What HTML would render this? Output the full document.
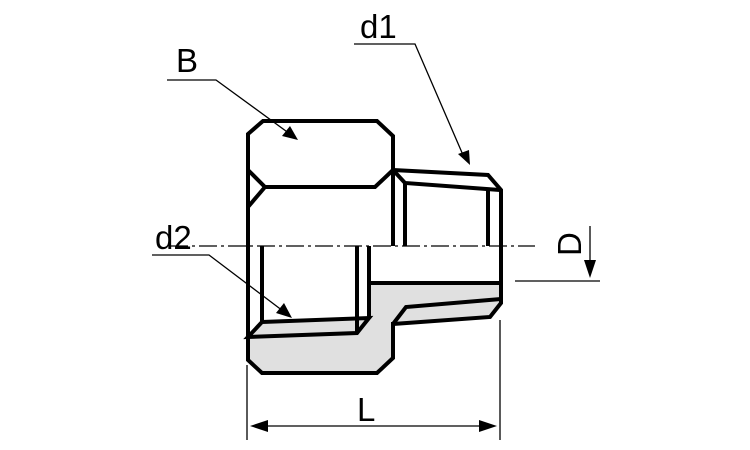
<!DOCTYPE html>
<html><head><meta charset="utf-8"><style>html,body{margin:0;padding:0;background:#fff;}svg{display:block}</style></head>
<body>
<svg width="750" height="450" viewBox="0 0 750 450" xmlns="http://www.w3.org/2000/svg" font-family="Liberation Sans, sans-serif">
<rect width="750" height="450" fill="#fff"/>
<polygon points="368,283 501,283 501,303 490,317 393,324 393,358 377,373 262,373 248,360 248,337 262,322 368,318" fill="#e0e0e0"/>
<g fill="none" stroke="#000" stroke-width="4" stroke-linejoin="miter">
<polyline points="393,246 393,136 377,121 263,121 248,134 248,360 262,373 377,373 393,358 393,322"/>
<polyline points="248,170 265,187 375,187 393,170"/>
<polyline points="248,207 265,187"/>
<polyline points="393,170 488,175 501,190 501,303 490,317 393,324"/>
<polyline points="393,170 405,183 500,190"/>
<line x1="405" y1="183" x2="405" y2="246"/>
<line x1="488" y1="190" x2="488" y2="246"/>
<line x1="262" y1="246" x2="262" y2="322"/>
<line x1="357" y1="246" x2="357" y2="334"/>
<line x1="369" y1="246" x2="369" y2="318"/>
<polyline points="369,283 501,283"/>
<polyline points="262,322 369,318 357,333 248,337 262,322"/>
<polyline points="393,324 406,307 501,299"/>
</g>
<line x1="170" y1="246" x2="535" y2="246" stroke="#000" stroke-width="1.3" stroke-dasharray="18,4,3,4"/>
<g stroke="#000" stroke-width="1.3" fill="none">
<polyline points="167,80 216,80 290,134"/>
<polyline points="354,44 415,44 463,155"/>
<polyline points="152,255 209,255 283,311"/>
<line x1="515" y1="281" x2="600" y2="281"/>
<line x1="590" y1="226" x2="590" y2="262"/>
<line x1="247" y1="365" x2="247" y2="440"/>
<line x1="500" y1="320" x2="500" y2="440"/>
<line x1="262" y1="426" x2="486" y2="426"/>
</g>
<g fill="#000">
<polygon points="298,140 282,136 290,126"/>
<polygon points="470,165 458,154 469,150"/>
<polygon points="292,318 276,313 284,303"/>
<polygon points="590,278 584,260 596,260"/>
<polygon points="250,426 268,420 268,432"/>
<polygon points="497,426 479,420 479,432"/>
</g>
<g font-size="33" fill="#000">
<text x="176" y="72">B</text>
<text x="360" y="38">d1</text>
<text x="155" y="249">d2</text>
<text x="357" y="421">L</text>
<text x="0" y="0" transform="translate(581,256) rotate(-90)">D</text>
</g>
</svg>
</body></html>
